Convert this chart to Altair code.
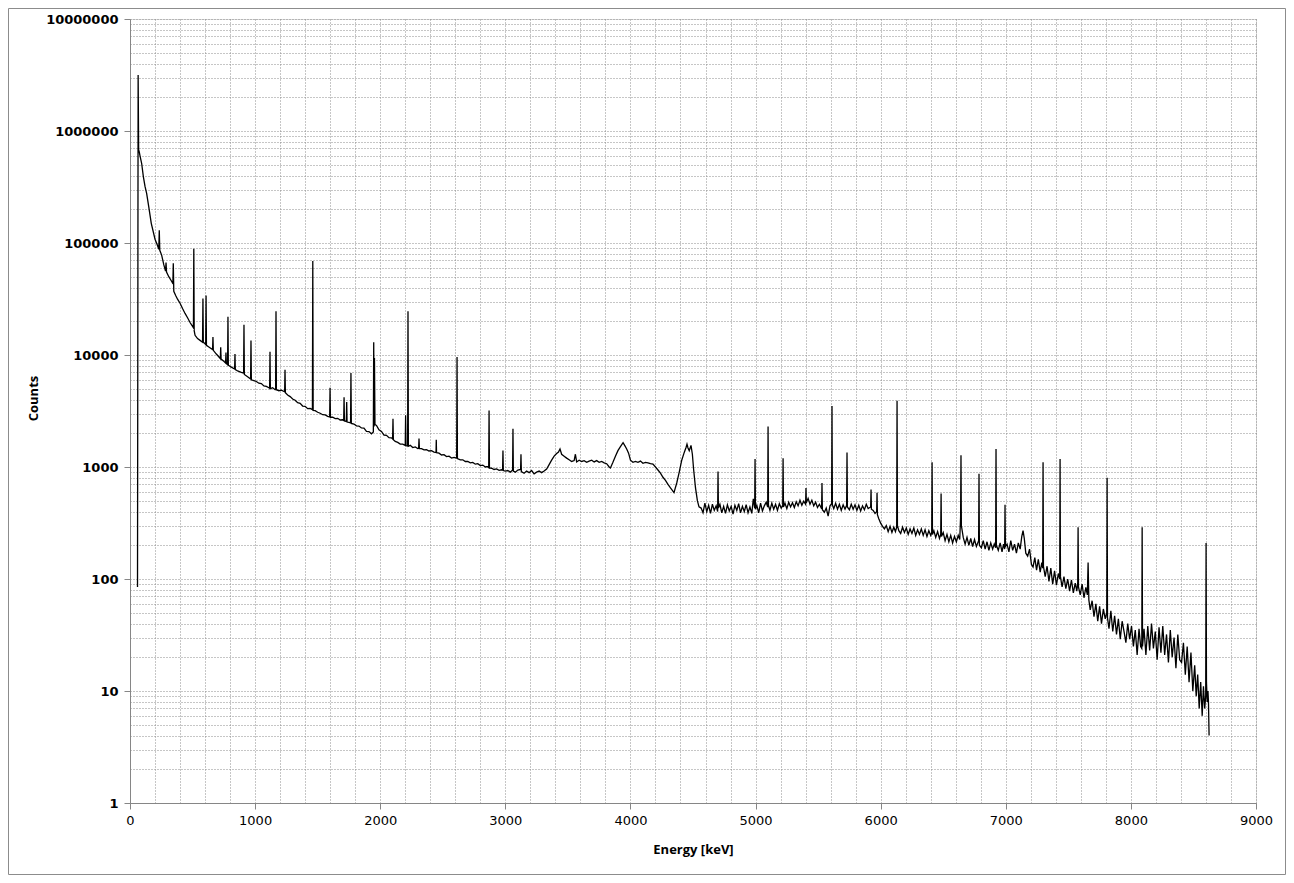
import altair as alt
import pandas as pd

# ---- spectrum, 0-1000 keV ----
a_kev = [60, 65, 69, 74, 80, 93, 107, 120, 133, 150,
         170, 200, 220, 230, 234, 238, 253, 270, 284, 288,
         292, 310, 330, 340, 343, 346, 350, 365, 380, 400,
         420, 440, 460, 480, 500, 507, 510, 513, 520, 540,
         560, 580, 583, 586, 600, 605, 608, 611, 630, 660,
         663, 666, 690, 722, 725, 728, 750, 764, 767, 770,
         780, 783, 786, 810, 836, 839, 842, 860, 890, 908,
         911, 914, 940, 964, 967, 970, 990]
a_counts = [85, 3160000, 680000, 650000, 600000, 515000, 390000, 320000, 277000, 210000,
            150000, 108000, 95000, 88000, 130000, 86000, 78000, 64000, 56000, 67000,
            55000, 50000, 46000, 44000, 45000, 66000, 37000, 34000, 31500, 29000,
            26000, 23500, 21500, 19500, 18000, 17500, 89000, 16500, 15000, 14000,
            13500, 13000, 32000, 13000, 12600, 12400, 34000, 12200, 11800, 11200,
            14500, 11000, 10200, 9300, 11700, 9200, 8800, 8500, 10500, 8400,
            8200, 22000, 8100, 7800, 7500, 10200, 7400, 7200, 7000, 6900,
            18600, 6700, 6400, 6100, 13500, 6000, 5900]

# ---- spectrum, 1000-3000 keV ----
b_kev = [1010, 1030, 1050, 1070, 1090, 1110, 1116, 1119, 1122, 1140,
         1160, 1164, 1167, 1170, 1190, 1210, 1236, 1239, 1242, 1260,
         1280, 1300, 1320, 1340, 1360, 1380, 1400, 1420, 1440, 1458,
         1461, 1464, 1480, 1500, 1520, 1540, 1560, 1580, 1596, 1599,
         1602, 1620, 1640, 1660, 1680, 1700, 1708, 1711, 1714, 1729,
         1732, 1735, 1750, 1763, 1766, 1769, 1790, 1810, 1830, 1850,
         1870, 1890, 1910, 1930, 1945, 1948, 1951, 1954, 1958, 1970,
         1990, 2010, 2030, 2050, 2070, 2090, 2099, 2102, 2105, 2120,
         2140, 2160, 2180, 2200, 2203, 2206, 2219, 2222, 2225, 2240,
         2260, 2280, 2300, 2307, 2310, 2313, 2330, 2350, 2370, 2390,
         2410, 2430, 2446, 2448, 2450, 2470, 2490, 2510, 2530, 2550,
         2570, 2590, 2611, 2614, 2617, 2640, 2660, 2680, 2700, 2720,
         2740, 2760, 2780, 2800, 2820, 2840, 2860, 2867, 2870, 2873,
         2890, 2910, 2930, 2950, 2970, 2978, 2981, 2984, 3000]
b_counts = [5800, 5600, 5550, 5300, 5250, 5100, 5050, 10700, 5000, 5100,
            4900, 4950, 24600, 4900, 4800, 4850, 4700, 7400, 4600, 4400,
            4250, 4050, 3950, 3750, 3700, 3500, 3480, 3320, 3330, 3250,
            69000, 3200, 3180, 3080, 3020, 2930, 2920, 2830, 2800, 5100,
            2780, 2780, 2700, 2720, 2630, 2640, 2600, 4200, 2580, 2550,
            3800, 2520, 2500, 2480, 6900, 2450, 2420, 2330, 2320, 2230,
            2220, 2080, 2070, 1980, 2050, 13000, 2300, 9400, 2400, 2350,
            2150, 2080, 1930, 1920, 1830, 1820, 1780, 2700, 1750, 1690,
            1660, 1600, 1600, 1560, 2900, 1550, 1540, 24600, 1530, 1560,
            1490, 1510, 1460, 1470, 1800, 1460, 1460, 1420, 1430, 1390,
            1400, 1360, 1350, 1750, 1340, 1330, 1280, 1290, 1240, 1250,
            1200, 1220, 1200, 9600, 1190, 1160, 1160, 1120, 1120, 1090,
            1100, 1060, 1070, 1030, 1040, 1000, 1010, 990, 3200, 980,
            975, 950, 960, 935, 945, 940, 1400, 930, 920]

# ---- spectrum, 3000-4560 keV ----
c_kev = [3020, 3040, 3058, 3061, 3064, 3080, 3100, 3122, 3125, 3128,
         3150, 3170, 3190, 3210, 3230, 3250, 3270, 3290, 3310, 3330,
         3350, 3370, 3390, 3410, 3425, 3437, 3450, 3470, 3490, 3510,
         3530, 3550, 3560, 3570, 3590, 3610, 3630, 3650, 3670, 3690,
         3710, 3730, 3750, 3770, 3790, 3810, 3830, 3840, 3860, 3880,
         3900, 3920, 3941, 3955, 3970, 3985, 4000, 4020, 4040, 4060,
         4080, 4100, 4120, 4140, 4160, 4180, 4200, 4220, 4240, 4260,
         4280, 4300, 4320, 4348, 4370, 4390, 4410, 4430, 4445, 4452,
         4460, 4470, 4484, 4495, 4505, 4520, 4535, 4548]
c_counts = [930, 900, 940, 2200, 920, 900, 940, 950, 1300, 910,
            880, 920, 890, 930, 870, 900, 920, 890, 920, 960,
            1050, 1150, 1250, 1320, 1360, 1450, 1300, 1250, 1200, 1160,
            1120, 1140, 1300, 1110, 1150, 1120, 1140, 1100, 1130, 1150,
            1110, 1140, 1100, 1120, 1090, 1070, 1000, 980, 1100, 1250,
            1400, 1520, 1650, 1550, 1450, 1330, 1150, 1100, 1120, 1100,
            1130, 1080, 1100, 1090, 1070, 1060, 1000, 940, 880, 810,
            760, 700, 650, 590, 720, 900, 1150, 1350, 1500, 1600,
            1480, 1400, 1560, 1300, 950, 650, 500, 440]

# ---- spectrum, 4560-7000 keV ----
d_kev = [4565, 4580, 4595, 4610, 4625, 4640, 4655, 4670, 4685, 4697,
         4700, 4703, 4715, 4730, 4745, 4760, 4775, 4790, 4805, 4820,
         4835, 4850, 4865, 4880, 4895, 4910, 4925, 4940, 4955, 4970,
         4982, 4993, 4996, 4999, 5010, 5025, 5040, 5055, 5070, 5085,
         5097, 5100, 5103, 5115, 5130, 5145, 5160, 5175, 5190, 5205,
         5217, 5220, 5223, 5235, 5250, 5265, 5280, 5295, 5310, 5325,
         5340, 5355, 5370, 5385, 5400, 5403, 5406, 5420, 5435, 5450,
         5465, 5480, 5495, 5510, 5528, 5531, 5534, 5550, 5565, 5580,
         5595, 5608, 5611, 5614, 5625, 5640, 5655, 5670, 5685, 5700,
         5715, 5728, 5731, 5734, 5750, 5765, 5780, 5795, 5810, 5825,
         5840, 5855, 5870, 5885, 5900, 5920, 5923, 5926, 5940, 5955,
         5968, 5971, 5974, 5985, 6000, 6015, 6030, 6045, 6060, 6075,
         6090, 6105, 6118, 6128, 6131, 6134, 6145, 6160, 6175, 6190,
         6205, 6220, 6235, 6250, 6265, 6280, 6295, 6310, 6325, 6340,
         6355, 6370, 6385, 6400, 6408, 6411, 6414, 6425, 6440, 6455,
         6470, 6480, 6483, 6486, 6500, 6515, 6530, 6545, 6560, 6575,
         6590, 6605, 6620, 6632, 6639, 6642, 6645, 6660, 6675, 6690,
         6705, 6720, 6735, 6750, 6765, 6783, 6786, 6789, 6805, 6820,
         6835, 6850, 6865, 6880, 6895, 6908, 6919, 6922, 6925, 6940,
         6955, 6970, 6982, 6991, 6994, 6997]
d_counts = [430, 390, 475, 400, 455, 385, 465, 410, 450, 400,
            910, 430, 465, 390, 445, 385, 460, 405, 445, 380,
            455, 410, 470, 390, 445, 400, 460, 390, 440, 385,
            520, 430, 1180, 420, 455, 390, 475, 405, 450, 485,
            440, 2300, 455, 410, 475, 420, 465, 410, 470, 430,
            450, 1200, 440, 475, 425, 485, 440, 480, 435, 490,
            450, 505, 455, 495, 465, 650, 480, 525, 465, 505,
            450, 485, 435, 465, 425, 720, 415, 395, 430, 365,
            450, 470, 3500, 460, 425, 475, 420, 465, 410, 460,
            420, 455, 1350, 440, 415, 465, 420, 460, 410, 455,
            405, 450, 415, 465, 425, 440, 630, 420, 410, 385,
            400, 590, 375, 345, 315, 295, 280, 300, 265, 295,
            260, 290, 265, 290, 3900, 300, 270, 255, 290, 260,
            285, 250, 280, 255, 285, 245, 275, 250, 280, 245,
            275, 240, 270, 245, 260, 1100, 250, 270, 235, 265,
            230, 250, 580, 240, 260, 220, 250, 215, 245, 210,
            240, 215, 245, 225, 360, 1270, 300, 235, 205, 235,
            200, 230, 195, 225, 195, 220, 870, 200, 190, 220,
            185, 215, 180, 210, 185, 205, 190, 1450, 200, 180,
            210, 175, 205, 185, 460, 195]

# ---- spectrum, 7000-8630 keV ----
e_kev = [7010, 7025, 7040, 7055, 7070, 7085, 7100, 7115, 7128, 7138,
         7148, 7160, 7175, 7190, 7205, 7218, 7232, 7246, 7260, 7275,
         7288, 7295, 7298, 7301, 7315, 7330, 7345, 7360, 7375, 7390,
         7405, 7420, 7431, 7434, 7437, 7450, 7465, 7480, 7495, 7510,
         7525, 7540, 7555, 7568, 7575, 7578, 7581, 7595, 7610, 7625,
         7640, 7652, 7658, 7664, 7675, 7690, 7705, 7720, 7735, 7750,
         7765, 7780, 7795, 7807, 7810, 7813, 7825, 7840, 7855, 7870,
         7885, 7900, 7915, 7930, 7945, 7960, 7975, 7990, 8005, 8020,
         8035, 8050, 8065, 8078, 8087, 8090, 8093, 8105, 8120, 8135,
         8150, 8165, 8180, 8195, 8210, 8225, 8240, 8255, 8270, 8285,
         8300, 8315, 8330, 8345, 8360, 8375, 8390, 8405, 8420, 8435,
         8450, 8465, 8480, 8495, 8510, 8522, 8534, 8546, 8558, 8570,
         8580, 8590, 8598, 8601, 8604, 8610, 8616, 8620, 8625]
e_counts = [205, 175, 220, 180, 205, 170, 210, 185, 240, 270,
            230, 170, 160, 185, 135, 128, 155, 120, 150, 115,
            140, 125, 1100, 130, 105, 130, 95, 125, 90, 118,
            88, 112, 100, 1180, 105, 85, 105, 82, 100, 78,
            98, 75, 92, 78, 92, 290, 85, 72, 90, 68,
            84, 72, 140, 65, 53, 64, 46, 60, 42, 57,
            40, 54, 44, 50, 800, 45, 36, 52, 34, 47,
            32, 44, 29, 42, 34, 27, 40, 29, 38, 25,
            35, 21, 36, 25, 24, 290, 25, 36, 21, 38,
            23, 40, 24, 34, 19, 37, 22, 38, 21, 32,
            18, 35, 20, 30, 16, 32, 19, 18, 27, 14,
            25, 12, 22, 10, 17, 9, 14, 7, 12, 6,
            11, 7, 9, 210, 12, 8, 10, 8, 4]

segments = [(a_kev, a_counts), (b_kev, b_counts), (c_kev, c_counts),
            (d_kev, d_counts), (e_kev, e_counts)]
for k, c in segments:
    assert len(k) == len(c), (len(k), len(c))

energy = [v for k, _ in segments for v in k]
counts = [v for _, c in segments for v in c]
df = pd.DataFrame({"energy": energy, "counts": counts})

x_ticks = list(range(0, 9001, 200))
y_ticks = [m * 10 ** k for k in range(7) for m in range(1, 10)] + [10 ** 7]
is_decade = "pow(10, round(log(datum.value) / LN10)) == datum.value"

AXIS_GREY = "#868686"
GRID_GREY = "#8c8c8c"
LABEL_FONT = "DejaVu Sans"
TITLE_FONT = "Open Sans"

x_axis = alt.Axis(
    values=x_ticks, format="d", title="Energy [keV]",
    labelExpr="datum.value % 1000 == 0 ? datum.label : ''",
    tickOpacity={"condition": {"test": "datum.value % 1000 == 0", "value": 1}, "value": 0},
    grid=True, gridColor=GRID_GREY, gridDash=[1, 2], gridWidth=1,
    domainColor=AXIS_GREY, tickColor=AXIS_GREY, tickSize=6,
    labelFont=LABEL_FONT, labelFontSize=13, labelColor="black", labelPadding=5,
    labelFlush=False, labelOverlap=False,
    titleFont=TITLE_FONT, titleFontSize=13, titleFontWeight="bold", titleColor="black",
    titleY=40,
)
y_axis = alt.Axis(
    values=y_ticks, format="d", title="Counts",
    labelExpr="(" + is_decade + ") ? datum.label : ''",
    tickOpacity={"condition": {"test": is_decade, "value": 1}, "value": 0},
    grid=True, gridColor=GRID_GREY, gridDash=[1, 2], gridWidth=1,
    domainColor=AXIS_GREY, tickColor=AXIS_GREY, tickSize=6,
    labelFont=LABEL_FONT, labelFontSize=13, labelFontWeight="bold", labelColor="black",
    labelPadding=6, labelFlush=False, labelOverlap=False,
    titleFont=TITLE_FONT, titleFontSize=13, titleFontWeight="bold", titleColor="black",
    titleX=-90, titleY=379, titleBaseline="bottom",
)

line = alt.Chart(df).mark_line(color="black", strokeWidth=1.3).encode(
    x=alt.X("energy:Q", scale=alt.Scale(domain=[0, 9000], nice=False), axis=x_axis),
    y=alt.Y("counts:Q", scale=alt.Scale(type="log", domain=[1, 10 ** 7], nice=False), axis=y_axis),
)

frame = alt.Chart(alt.Data(values=[{"f": 1}])).mark_rect(
    fill="transparent", stroke="#8c8c8c", strokeWidth=1
).encode(
    x=alt.value(-121.5), x2=alt.value(1155.5), y=alt.value(-10.5), y2=alt.value(855.5)
)

chart = alt.layer(frame, line).properties(
    width=1126, height=784, autosize="none",
    padding={"left": 122, "top": 11, "right": 30, "bottom": 72},
).configure_view(strokeWidth=0).configure(background="white")

chart.save("out.html", embed_options={"renderer": "svg", "actions": False})
